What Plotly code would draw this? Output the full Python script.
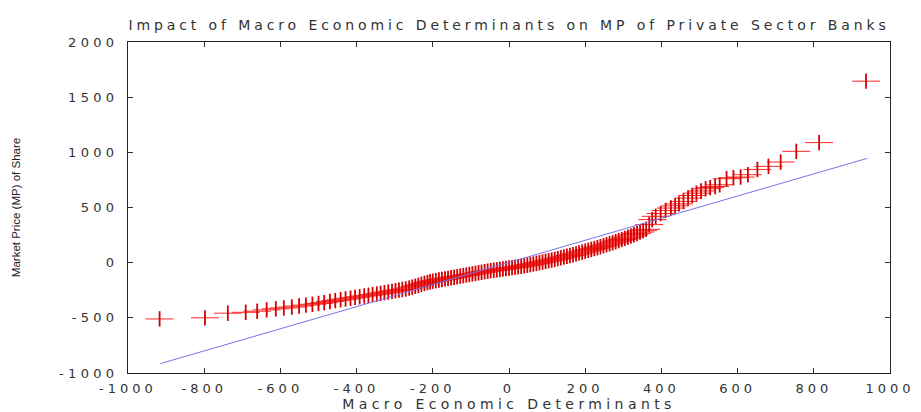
import plotly.graph_objects as go

# Quantile points (x: theoretical, y: observed market price)
qx = [-917, -798, -738, -691, -661, -636, -612, -591, -570, -551, -533, -516, -500, -485,
      -470, -456, -442, -429, -416, -404, -392, -380, -369, -358, -347, -337, -327, -317,
      -307, -298, -289, -280, -271, -262, -254, -246, -238, -230, -222, -214, -207,
      -200, -192, -184, -176, -168, -160, -152, -144, -136, -128, -120, -112, -104, -96,
      -88, -80, -72, -64, -56, -48, -40, -32, -24, -16, -8, 0, 8, 16, 24, 32, 40, 48, 56,
      64, 72, 80, 88, 96, 104, 112, 120, 128, 136, 144, 152, 160, 168, 176, 184, 192, 200,
      208, 216, 224, 232, 240, 248, 256, 264, 272, 280, 288, 296, 304, 312, 320, 328, 336,
      344, 352, 360,
      368, 376, 385, 398, 411, 425, 436, 446, 458, 470, 481, 492, 504, 516, 528, 541, 553,
      571, 589, 608, 627, 652, 681, 713, 754, 814, 937]
qy = [-510, -500, -458, -450, -440, -428, -418, -410, -402, -393, -385, -377, -370, -362,
      -352, -344, -336, -329, -322, -315, -309, -302, -296, -290, -284, -278, -272, -266,
      -260, -254, -249, -243, -238, -230, -222, -214, -206, -197, -188, -180, -174,
      -168, -163, -157, -152, -147, -142, -137, -132, -127, -122, -117, -112, -107, -102,
      -97, -92, -87, -82, -77, -73, -69, -65, -61, -57, -53, -49, -45, -41, -37, -33, -28,
      -23, -18, -12, -6, 0, 6, 12, 18, 24, 30, 37, 44, 51, 58, 65, 72, 80, 88, 96, 104,
      112, 120, 128, 136, 145, 153, 162, 171, 180, 190, 200, 210, 220, 231, 242, 253, 265,
      277, 290, 302,
      345, 390, 420, 445, 473, 495, 515, 533, 555, 585, 609, 630, 650, 670, 680, 690, 706,
      761, 770, 776, 797, 845, 873, 912, 1009, 1088, 1645]

# Reference line
line_x = [-915, 940]
line_y = [-915, 945]

x_ticks = [-1000, -800, -600, -400, -200, 0, 200, 400, 600, 800, 1000]
x_tick_labels = ["-1000", "-800", "-600", "-400", "-200", "0", "200", "400", "600", "800", "1000"]
y_ticks = [-1000, -500, 0, 500, 1000, 1500, 2000]
y_tick_labels = ["-1000", "-500", "0", "500", "1000", "1500", "2000"]

title_text = "Impact of Macro Economic Determinants on MP of Private Sector Banks"
x_title = "Macro Economic Determinants"
y_title = "Market Price (MP) of Share"


def wide(s, sp):
    return "<span style='letter-spacing:%spx'>%s</span>" % (sp, s)


fig = go.Figure()
fig.add_trace(go.Scatter(x=qx, y=qy, mode="markers", hoverinfo="skip",
                         marker=dict(symbol="line-ew", size=20, color="rgba(0,0,0,0)",
                                     line=dict(color="#ff2828", width=1))))
fig.add_trace(go.Scatter(x=qx, y=qy, mode="markers", hoverinfo="skip",
                         marker=dict(symbol="line-ns", size=11, color="rgba(0,0,0,0)",
                                     line=dict(color="#d40000", width=1.8))))
fig.add_trace(go.Scatter(x=line_x, y=line_y, mode="lines", hoverinfo="skip",
                         line=dict(color="#7a72e6", width=1)))

tick_font = dict(family="DejaVu Sans", size=13, color="#333")
axis_common = dict(showgrid=False, zeroline=False, showline=True, mirror="ticks",
                   linecolor="#222", linewidth=1, ticks="inside", ticklen=5,
                   tickcolor="#333", tickfont=tick_font)

fig.update_layout(
    width=921, height=412,
    margin=dict(l=128, r=31, t=42, b=39),
    paper_bgcolor="white", plot_bgcolor="white",
    showlegend=False,
    title=dict(text=wide(title_text, 3.9), xref="paper", x=0.5, xanchor="center",
               y=0.94, yanchor="middle",
               font=dict(family="DejaVu Sans", size=14, color="#333")),
    xaxis=dict(range=[-1000, 1000], tickvals=x_ticks,
               ticktext=[wide(t, 4) for t in x_tick_labels], ticklabelstandoff=3,
               **axis_common,
               title=dict(text=wide(x_title, 4.4), standoff=5,
                          font=dict(family="DejaVu Sans", size=14, color="#333"))),
    yaxis=dict(range=[-1000, 2000], tickvals=y_ticks,
               ticktext=[wide(t, 4.3) for t in y_tick_labels], ticklabelstandoff=6,
               **axis_common,
               title=dict(text=y_title, standoff=36,
                          font=dict(family="Liberation Sans Narrow, Liberation Sans", size=11.5, color="#222"))),
)
fig.update_xaxes(automargin=False)
fig.update_yaxes(automargin=False)

fig.write_html("out.html")
